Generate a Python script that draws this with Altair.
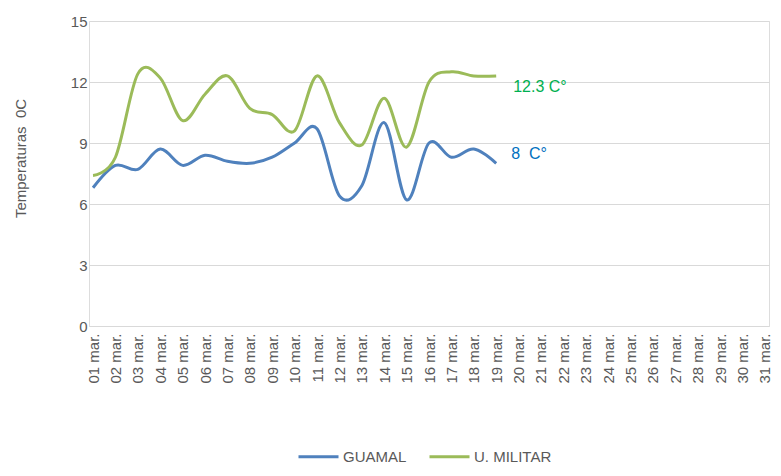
import altair as alt
import pandas as pd

days = [f"{d:02d} mar." for d in range(1, 32)]
guamal = [6.8, 7.9, 7.7, 8.7, 7.9, 8.4, 8.1, 8.0, 8.3, 9.0, 9.7, 6.4, 6.9, 10.0, 6.2, 9.0, 8.3, 8.7, 8.0]
militar = [7.4, 8.3, 12.4, 12.2, 10.1, 11.4, 12.3, 10.7, 10.4, 9.6, 12.3, 10.0, 8.9, 11.2, 8.8, 12.0, 12.5, 12.3, 12.3]
series = ["GUAMAL", "U. MILITAR"]
colors = ["#4F81BD", "#9BBB59"]
y_ticks = [0, 3, 6, 9, 12, 15]
annot_text = ["8\u00a0 C°", "12.3 C°"]
annot_colors = ["#0070C0", "#00B050"]

rows = []
for i, v in enumerate(guamal):
    rows.append({"day": days[i], "temp": v, "serie": series[0]})
for i, v in enumerate(militar):
    rows.append({"day": days[i], "temp": v, "serie": series[1]})
df = pd.DataFrame(rows)

FONT = "Liberation Sans"
GREY = "#595959"
XSCALE = alt.Scale(type="point", domain=days, padding=0.18)

x_enc = alt.X("day:O", scale=XSCALE,
              axis=alt.Axis(title=None, labelAngle=270, labelFontSize=15, labelColor=GREY,
                            labelFont=FONT, ticks=False, domain=False, labelPadding=7, grid=False))
y_enc = alt.Y("temp:Q", scale=alt.Scale(domain=[0, 15], nice=False, zero=True),
              axis=alt.Axis(values=y_ticks, title="Temperaturas\u00a0 0C", titleFont=FONT,
                            titleFontSize=15, titleFontWeight="normal", titleColor=GREY,
                            titleAngle=270, titleX=-69, titleY=137, titleAlign="center",
                            titleBaseline="middle",
                            labelFontSize=15, labelColor=GREY, labelFont=FONT, labelPadding=2,
                            ticks=False, domain=False, grid=True, gridColor="#D9D9D9",
                            gridWidth=1))

lines = alt.Chart(df).mark_line(interpolate="cardinal", strokeWidth=3).encode(
    x=x_enc,
    y=y_enc,
    color=alt.Color("serie:N", scale=alt.Scale(domain=series, range=colors),
                    legend=alt.Legend(title=None, orient="none", legendX=218, legendY=424,
                                      direction="horizontal", symbolType="M-2,0L2,0",
                                      symbolSize=400, symbolStrokeWidth=3,
                                      symbolFillColor="transparent",
                                      labelFontSize=15, labelColor=GREY, labelFont=FONT,
                                      columnPadding=16, labelOffset=13, padding=0)),
)

last_g = pd.DataFrame({"day": [days[len(guamal) - 1]], "temp": [guamal[-1]], "txt": [annot_text[0]]})
last_m = pd.DataFrame({"day": [days[len(militar) - 1]], "temp": [militar[-1]], "txt": [annot_text[1]]})

t_g = alt.Chart(last_g).mark_text(align="left", baseline="middle", dx=15, dy=-9, fontSize=16,
                                  font=FONT, color=annot_colors[0]).encode(
    x=alt.X("day:O", scale=XSCALE), y=alt.Y("temp:Q"), text="txt:N")
t_m = alt.Chart(last_m).mark_text(align="left", baseline="middle", dx=17, dy=11, fontSize=16,
                                  font=FONT, color=annot_colors[1]).encode(
    x=alt.X("day:O", scale=XSCALE), y=alt.Y("temp:Q"), text="txt:N")

chart = alt.layer(lines, t_g, t_m).properties(
    width=680, height=305,
    autosize=alt.AutoSizeParams(type="none"),
    padding={"left": 81, "top": 13, "right": 4, "bottom": 140},
).configure_view(stroke=None).configure(font=FONT)

chart.save("out.html", embed_options={"renderer": "svg", "actions": False})
